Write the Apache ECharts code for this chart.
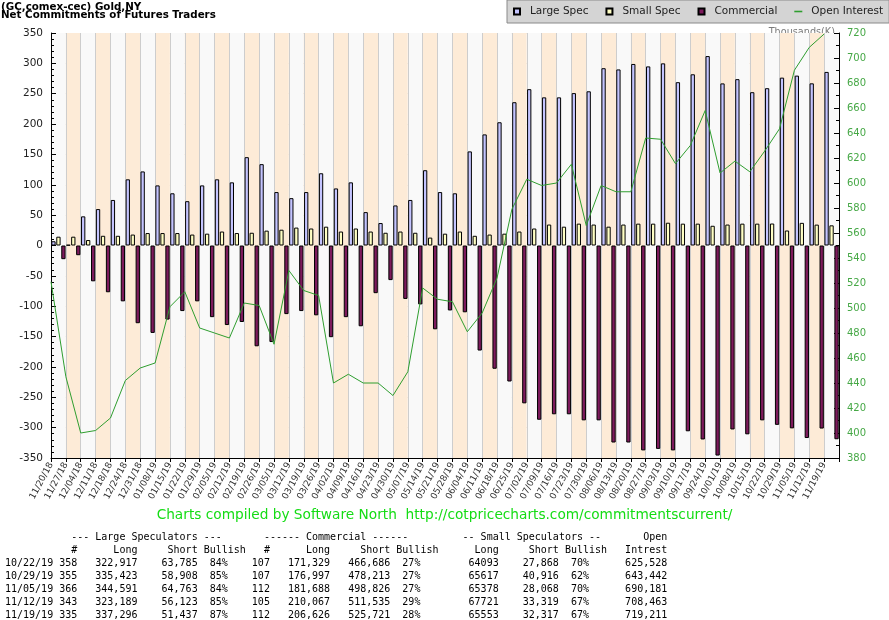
<!DOCTYPE html>
<html lang="en">
<head>
<meta charset="UTF-8">
<title>Gold COT net positions</title>
<script src="https://cdn.jsdelivr.net/npm/echarts@6/dist/echarts.min.js"></script>
<style>
  html, body { margin: 0; padding: 0; background: #fff; }
  #chart { width: 889px; height: 620px; }
</style>
</head>
<body>
<div id="chart"></div>
<script>
// weekly report dates
var dates = ['11/20/18','11/27/18','12/04/18','12/11/18','12/18/18','12/24/18','12/31/18','01/08/19','01/15/19','01/22/19',
  '01/29/19','02/05/19','02/12/19','02/19/19','02/26/19','03/05/19','03/12/19','03/19/19','03/26/19','04/02/19',
  '04/09/19','04/16/19','04/23/19','04/30/19','05/07/19','05/14/19','05/21/19','05/28/19','06/04/19','06/11/19',
  '06/18/19','06/25/19','07/02/19','07/09/19','07/16/19','07/23/19','07/30/19','08/06/19','08/13/19','08/20/19',
  '08/27/19','09/03/19','09/10/19','09/17/19','09/24/19','10/01/19','10/08/19','10/15/19','10/22/19','10/29/19',
  '11/05/19','11/12/19','11/19/19'];

// net positions, thousands of contracts
var largeSpec = [7, 1, 48, 60, 75, 109, 122, 99, 86, 73,
  99, 109, 104, 145.5, 134, 88, 78, 88, 119, 94,
  104, 55, 37, 66, 75, 124, 88, 86, 155, 183,
  203, 236, 257.5, 244, 244, 251, 254, 292, 290, 299,
  295, 300, 269, 282, 312, 267, 274, 252.5, 259.1, 276.5,
  279.8, 267.1, 285.9];
var smallSpec = [14.5, 14.5, 9, 16, 16, 18, 20.5, 20.5, 20.5, 18,
  19.5, 23, 20.5, 21, 24.5, 26, 29.5, 28, 31, 23,
  28, 23, 21, 23, 21, 13, 19.5, 23, 16, 18,
  19.5, 23, 28, 34.5, 31, 36, 34.5, 31, 34.5, 36,
  36, 37.5, 36, 36, 32.5, 34.5, 36, 36, 36.2, 24.7,
  37.3, 34.4, 33.2];
var commercial = [-22.5, -16, -59, -77, -92, -128, -144, -122, -108, -92,
  -118, -131, -126, -166, -159, -113, -108, -115, -151, -118,
  -133, -78.5, -57, -88, -97, -138, -107, -110, -173, -203,
  -224, -260, -287, -278, -278, -288, -288, -324.5, -324.5, -337.5,
  -335, -337.5, -306, -319.5, -346, -303, -311, -288, -295.4, -301.2,
  -317.1, -301.5, -319.1];
// open interest, thousands
var openInterest = [521, 445, 400, 402, 412, 442, 452, 456, 501, 513,
  484, 480, 476, 504, 502, 471, 530, 514, 510, 440,
  447, 440, 440, 430, 449, 516, 507, 505, 481, 496,
  524, 579, 603, 598, 600, 615, 566, 598, 593, 593,
  636, 635, 615.5, 630, 658, 608, 617.5, 609, 625.5, 643.4,
  690.2, 708.5, 719.2];

// table under the chart
var tblDates   = ['10/22/19','10/29/19','11/05/19','11/12/19','11/19/19'];
var lsTraders  = [358, 355, 366, 343, 335];
var lsLong     = [322917, 335423, 344591, 323189, 337296];
var lsShort    = [63785, 58908, 64763, 56123, 51437];
var lsBull     = [84, 85, 84, 85, 87];
var cmTraders  = [107, 107, 112, 105, 112];
var cmLong     = [171329, 176997, 181688, 210067, 206626];
var cmShort    = [466686, 478213, 498826, 511535, 525721];
var cmBull     = [27, 27, 27, 29, 28];
var ssLong     = [64093, 65617, 65378, 67721, 65553];
var ssShort    = [27868, 40916, 28068, 33319, 32317];
var ssBull     = [70, 62, 70, 67, 67];
var openTotal  = [625528, 643442, 690181, 708463, 719211];

function commas(n) { return String(n).replace(/\B(?=(\d{3})+(?!\d))/g, ','); }
// put str in a fixed width line so that it ends at column end
function put(line, str, end) {
  var start = end - str.length + 1;
  for (var i = 0; i < str.length; i++) line[start + i] = str[i];
}
function newLine() { var a = []; for (var i = 0; i < 110; i++) a.push(' '); return a; }

var lines = [];
var h1 = newLine();
put(h1, '--- Large Speculators ---', 35);
put(h1, '------ Commercial ------', 66);
put(h1, '-- Small Speculators --', 98);
put(h1, 'Open', 109);
lines.push(h1.join(''));
var h2 = newLine();
put(h2, '#', 11); put(h2, 'Long', 21); put(h2, 'Short', 31); put(h2, 'Bullish', 39);
put(h2, '#', 43); put(h2, 'Long', 53); put(h2, 'Short', 63); put(h2, 'Bullish', 71);
put(h2, 'Long', 81); put(h2, 'Short', 91); put(h2, 'Bullish', 99); put(h2, 'Intrest', 109);
lines.push(h2.join(''));
for (var r = 0; r < tblDates.length; r++) {
  var l = newLine();
  put(l, tblDates[r], 7);
  put(l, String(lsTraders[r]), 11);
  put(l, commas(lsLong[r]), 21);
  put(l, commas(lsShort[r]), 31);
  put(l, lsBull[r] + '%', 36);
  put(l, String(cmTraders[r]), 43);
  put(l, commas(cmLong[r]), 53);
  put(l, commas(cmShort[r]), 63);
  put(l, cmBull[r] + '%', 68);
  put(l, String(ssLong[r]), 81);
  put(l, commas(ssShort[r]), 91);
  put(l, ssBull[r] + '%', 96);
  put(l, commas(openTotal[r]), 109);
  lines.push(l.join('').replace(/\s+$/, ''));
}

var chart = echarts.init(document.getElementById('chart'));
var sq = 'path://M0,0h10v10h-10z';
var green = '#2f9e2f';

var option = {
  animation: false,
  textStyle: { fontFamily: 'DejaVu Sans' },
  legend: {
    left: 507, top: 0, width: 420,
    padding: [6, 6, 6, 6],
    itemGap: 17, itemWidth: 8, itemHeight: 6,
    backgroundColor: '#d4d4d4', borderColor: '#8a8a8a', borderWidth: 1,
    textStyle: { fontSize: 10.5, color: '#222', padding: [0, 0, 0, 4] },
    data: [
      { name: 'Large Spec', icon: sq },
      { name: 'Small Spec', icon: sq },
      { name: 'Commercial', icon: sq },
      { name: 'Open Interest', icon: 'path://M0,0h10v2h-10z' }
    ]
  },
  grid: { left: 51, right: 50, top: 33, bottom: 162 },
  xAxis: [{
    type: 'category',
    data: dates,
    boundaryGap: true,
    axisLine: { show: false },
    axisTick: { show: false },
    axisLabel: { show: false },
    splitLine: { show: true, interval: 0, lineStyle: { color: '#cdcdcd', width: 1 } },
    splitArea: { show: true, interval: 0, areaStyle: { color: ['#f9f9f9', '#fdebd7'] } }
  }, {
    // one slot per week boundary, labels sit on the left edge of each week
    type: 'category',
    data: dates.concat(['']),
    boundaryGap: false,
    position: 'bottom',
    axisLine: { show: true, lineStyle: { color: '#000', width: 1 } },
    axisTick: { show: true, interval: 0, length: 4, lineStyle: { color: '#000' } },
    axisLabel: { interval: 0, rotate: 62, fontSize: 9, color: '#333', margin: 5 },
    splitLine: { show: false }
  }],
  yAxis: [{
    type: 'value',
    min: -350, max: 350, interval: 50,
    axisLine: { show: true, lineStyle: { color: '#000' } },
    axisTick: { show: true, inside: true, length: 5, lineStyle: { color: '#000' } },
    minorTick: { show: true, splitNumber: 5, length: 3, lineStyle: { color: '#000' } },
    axisLabel: { fontSize: 10.5, color: '#222', margin: 8 },
    splitLine: { show: true, lineStyle: { color: '#d8c8b4', width: 1 } }
  }, {
    type: 'value',
    min: 380, max: 720, interval: 20,
    position: 'right',
    axisLine: { show: true, lineStyle: { color: '#000' } },
    axisTick: { show: true, inside: true, length: 5, lineStyle: { color: '#000' } },
    minorTick: { show: true, splitNumber: 2, length: 3, lineStyle: { color: '#000' } },
    axisLabel: { fontSize: 10, color: '#46a846', margin: 8 },
    splitLine: { show: false }
  }],
  series: [{
    name: 'Large Spec', type: 'bar', data: largeSpec,
    barWidth: 4.3, barGap: '16%',
    itemStyle: { color: '#c4c4ff', borderColor: '#000', borderWidth: 1 }
  }, {
    name: 'Small Spec', type: 'bar', data: smallSpec,
    barWidth: 4.3, barGap: '16%',
    itemStyle: { color: '#ffffc4', borderColor: '#000', borderWidth: 1 }
  }, {
    name: 'Commercial', type: 'bar', data: commercial,
    barWidth: 4.3, barGap: '16%',
    itemStyle: { color: '#7d1a5c', borderColor: '#000', borderWidth: 1 }
  }, {
    name: 'Open Interest', type: 'line', data: openInterest,
    xAxisIndex: 1, yAxisIndex: 1,
    symbol: 'none', z: 5,
    lineStyle: { color: green, width: 1 },
    itemStyle: { color: green, borderWidth: 0 }
  }],
  graphic: [{
    type: 'text', left: 1, top: 2,
    style: {
      text: '(GC,comex-cec) Gold,NY',
      fontSize: 10.3, fontWeight: 'bold', fill: '#000', fontFamily: 'DejaVu Sans'
    }
  }, {
    type: 'text', left: 1, top: 10,
    style: {
      text: 'Net Commitments of Futures Traders',
      fontSize: 10.3, fontWeight: 'bold', fill: '#000', fontFamily: 'DejaVu Sans'
    }
  }, {
    type: 'text', right: 54, top: 27,
    style: { text: 'Thousands(K)', fontSize: 9.7, fill: '#7a7a7a', fontFamily: 'DejaVu Sans' }
  }, {
    type: 'text', left: 'center', top: 508,
    style: {
      text: 'Charts compiled by Software North  http://cotpricecharts.com/commitmentscurrent/',
      fontSize: 13.7, fill: '#14dc14', fontFamily: 'DejaVu Sans'
    }
  }, {
    type: 'text', left: 5, top: 531,
    style: {
      text: lines.join('\n'),
      fontSize: 10, lineHeight: 13, fill: '#000', fontFamily: 'DejaVu Sans Mono'
    }
  }]
};

chart.setOption(option);
</script>
</body>
</html>
